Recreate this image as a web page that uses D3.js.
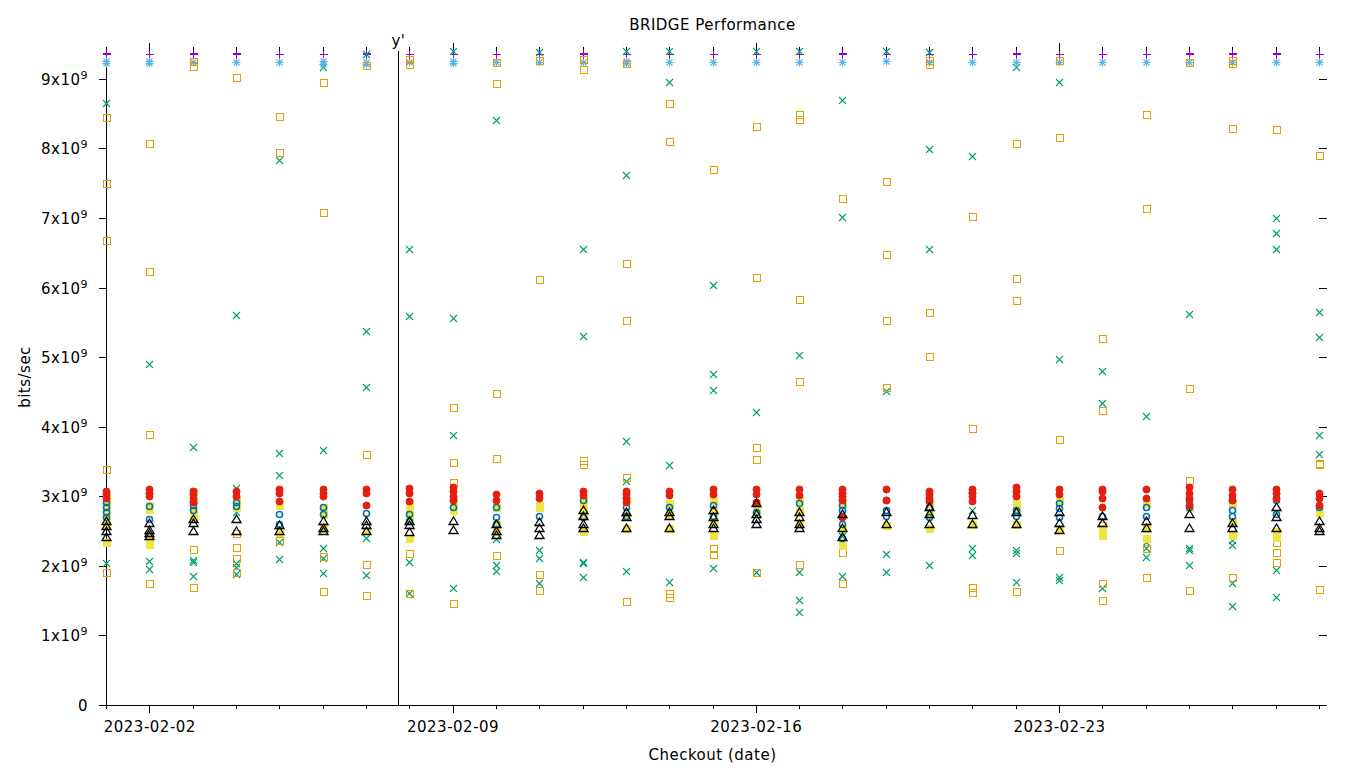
<!DOCTYPE html>
<html><head><meta charset="utf-8">
<script src="https://cdn.jsdelivr.net/npm/d3@7"></script>
<style>
body{margin:0;background:#fff}
svg{display:block}
text{font-family:"DejaVu Sans",sans-serif;fill:#000;letter-spacing:0.5px}
</style>
</head><body>
<svg id="chart" width="1360" height="768"></svg>
<script>
// ---- data (values in units of 1e9 bits/sec) ----
const dates = ["2023-02-01","2023-02-02","2023-02-03","2023-02-04","2023-02-05","2023-02-06","2023-02-07",
"2023-02-08","2023-02-09","2023-02-10","2023-02-11","2023-02-12","2023-02-13","2023-02-14","2023-02-15",
"2023-02-16","2023-02-17","2023-02-18","2023-02-19","2023-02-20","2023-02-21","2023-02-22","2023-02-23",
"2023-02-24","2023-02-25","2023-02-26","2023-02-27","2023-02-28","2023-03-01"];
const majorTickDates = ["2023-02-02","2023-02-09","2023-02-16","2023-02-23"];
const yTickValues = [0,1,2,3,4,5,6,7,8,9];
const markerDate = "2023-02-07T18:00";
const markerLabel = "y'";

const seriesPurple = [[9.37,9.35],[9.36],[9.37,9.35],[9.37,9.35],[9.36],[9.36,9.35],[9.37,9.35],[9.36,9.35],[9.36],[9.36],[9.36],[9.37,9.35],[9.36],[9.36],[9.36],[9.36],[9.36],[9.37,9.35],[9.36],[9.36],[9.36],[9.37,9.35],[9.36],[9.36],[9.36],[9.37,9.36,9.35],[9.37,9.35],[9.37,9.35],[9.36]];
const seriesGreen = [[8.65,2.04],[4.9,2.07,1.95],[3.71,2.09,2.06,1.86],[5.61,3.12,2.78,2.04,1.98,1.89],[7.83,3.62,3.31,2.34,2.1],[9.17,3.67,2.26,2.11,1.9],[9.36,5.38,4.57,2.4,1.87],[6.55,5.59,2.06,1.61],[9.40,5.56,3.88,1.68],[8.41,2.39,2.01,1.93],[9.39,2.23,2.11,1.75],[6.55,5.3,2.06,2.04,1.84],[9.40,7.62,3.8,3.22,1.93],[9.40,8.96,3.45,1.77],[6.04,4.76,4.53,1.97],[9.40,4.21,1.91],[9.40,5.03,1.91,1.51,1.33],[8.7,7.02,2.43,1.86],[9.40,4.52,2.17,1.91],[9.38,7.99,6.55,2.01],[7.89,2.8,2.26,2.16],[9.17,2.23,2.18,1.77],[8.96,4.98,1.84,1.8],[4.8,4.34,1.68],[4.16,2.34,2.25,2.13],[5.62,2.26,2.23,2.01],[2.37,2.3,1.75,1.42],[7.0,6.78,6.55,1.94,1.55],[5.65,5.29,3.88,3.61]];
const seriesLightBlue = [[9.26,9.23],[9.25,9.23],[9.24],[9.24],[9.24],[9.25,9.21],[9.24,9.22],[9.24],[9.25,9.23],[9.24],[9.24],[9.24],[9.25,9.23],[9.24],[9.24],[9.24],[9.24],[9.24],[9.25],[9.24],[9.24],[9.24],[9.24],[9.24],[9.24],[9.24],[9.24],[9.24],[9.24]];
const seriesOrange = [[8.45,7.5,6.68,3.39,1.91],[8.08,6.24,3.9,1.75],[9.25,9.18,2.24,1.7],[9.03,2.47,2.27,2.11,1.91],[8.47,7.95,2.37],[8.96,7.08,2.14,1.64],[9.2,3.61,2.03,1.58],[9.29,9.22,2.18,1.61],[4.28,3.49,3.2,1.47],[9.24,8.94,4.49,3.55,2.16],[9.27,6.12,1.88,1.65],[9.29,9.14,3.52,3.47],[9.23,6.35,5.53,3.28,1.49],[8.65,8.11,1.61,1.55],[7.71,2.26,2.17],[8.32,6.15,3.71,3.54,1.91],[8.5,8.42,5.84,4.66,2.03],[7.29,2.2,1.75],[7.53,6.48,5.53,4.57],[9.27,9.22,5.65,5.02],[7.03,3.98,1.7,1.62],[8.08,6.14,5.82,1.64],[9.27,8.17,3.82,2.23],[5.28,4.24,2.59,1.75,1.51],[8.5,7.14,2.26,1.84],[9.24,4.56,3.23,1.65],[9.27,9.23,8.29,1.84],[8.28,2.34,2.2,2.05],[7.91,3.48,3.46,1.67]];
const seriesYellow = [[3.0,2.9,2.8,2.7,2.6,2.35],[2.88,2.82,2.4,2.32],[3.08,2.95,2.8,2.7],[2.95,2.85],[2.88,2.48],[2.85,2.75,2.55],[2.52],[2.9,2.8,2.7,2.4],[2.95,2.85,2.8],[2.85,2.6,2.5],[2.88,2.84],[2.95,2.85,2.75,2.5],[2.95,2.75,2.55],[2.9,2.75,2.55],[2.95,2.8,2.65,2.45],[2.9,2.8],[2.95,2.8,2.6],[2.9,2.55,2.3],[2.58],[2.9,2.75,2.55],[2.6],[2.9,2.8,2.6],[2.95,2.55],[2.45,2.55],[2.9,2.55,2.4],[2.85],[2.9,2.65,2.45],[2.5,2.42],[2.78]];
const seriesBlue = [[2.92,2.85,2.78,2.7],[2.86,2.68],[2.92,2.87,2.8],[2.92,2.86],[2.75,2.6],[2.85,2.75],[2.76],[2.75,2.65],[2.85],[2.85,2.7,2.6],[2.72],[2.95,2.7],[2.85,2.72],[2.85],[2.88,2.72],[2.78],[2.9],[2.88,2.8,2.6,2.4],[2.95,2.8,2.72],[2.85,2.7],[3.06],[2.8,2.72],[2.9,2.83,2.7],[2.72],[2.85,2.72],[2.95,2.85],[2.95,2.8,2.72],[2.95,2.75],[2.85]];
const seriesRed = [[3.07,3.03,2.98],[3.1,3.05,3.0],[3.08,3.03,2.98,2.92],[3.07,3.0],[3.1,3.05,2.93],[3.1,3.05,3.0],[3.1,3.05,2.87],[3.12,3.05,2.93],[3.13,3.07,3.0,2.95],[3.03,2.95],[3.05,2.98],[3.08,3.02],[3.08,3.03,2.98,2.92],[3.08,3.02],[3.1,3.03],[3.1,3.03,2.92],[3.1,3.02],[3.1,3.05,3.0,2.95,2.7],[3.1,2.95],[3.08,3.03,2.98,2.93],[3.1,3.05,3.0,2.93],[3.14,3.08,3.0],[3.1,3.03],[3.1,3.07,2.98,2.85],[3.1,2.98],[3.13,3.05,2.98,2.88],[3.1,3.02,2.95],[3.1,3.05,2.98],[3.05,2.97,2.88]];
const seriesBlack = [[2.65,2.57,2.5,2.42],[2.62,2.52,2.47,2.43],[2.68,2.62,2.5],[2.68,2.5],[2.58,2.5],[2.65,2.55,2.5],[2.65,2.58,2.5],[2.65,2.58,2.48],[2.65,2.52],[2.6,2.5,2.45],[2.63,2.55,2.45],[2.8,2.72,2.6,2.55],[2.78,2.7,2.55],[2.78,2.72,2.55],[2.8,2.7,2.6,2.55],[2.9,2.75,2.68,2.6],[2.78,2.7,2.6,2.55],[2.75,2.55,2.42],[2.78,2.6],[2.85,2.75,2.6],[2.73,2.6],[2.78,2.6],[2.78,2.62,2.52],[2.72,2.62],[2.65,2.55],[2.75,2.55],[2.62,2.55],[2.85,2.7,2.55],[2.65,2.55,2.5]];

// ---- chart ----
(function(){
const svg = d3.select("#chart");
svg.append("rect").attr("width",1360).attr("height",768).attr("fill","#fff");
const parse = d3.isoParse;
const x = d3.scaleTime().domain([parse(dates[0]), parse(dates[dates.length-1])]).range([106,1319]);
const allVals = [seriesPurple,seriesGreen,seriesLightBlue,seriesOrange,seriesYellow,seriesBlue,seriesRed,seriesBlack].flat(2);
const y = d3.scaleLinear().domain([0, d3.max(allVals)]).range([705,51]);
const pL = x.range()[0], pR = x.range()[1], pT = y.range()[1], pB = y.range()[0];

// Left axis
const gL = svg.append("g").attr("transform",`translate(${pL},0)`)
  .call(d3.axisLeft(y).tickValues(yTickValues).tickSize(7).tickSizeOuter(0).tickFormat(""));
gL.selectAll(".tick").each(function(d){
  const t = d3.select(this).append("text").attr("x",-18).attr("y",5.5)
    .attr("text-anchor","end").style("font-size","15px");
  if(d===0){ t.text("0"); }
  else {
    t.append("tspan").text(d+"x10");
    t.append("tspan").attr("dy",-6).style("font-size","11px").text("9");
  }
});
// Right mirror ticks
const gR = svg.append("g").attr("transform",`translate(${pR},0)`)
  .call(d3.axisRight(y).tickValues(yTickValues).tickSize(8).tickSizeOuter(0).tickFormat(""));
gR.select(".domain").remove();

// Bottom axis: minor daily + major weekly
const dayDates = dates.map(parse);
const majors = majorTickDates.map(parse);
const gBm = svg.append("g").attr("transform",`translate(0,${pB})`)
  .call(d3.axisBottom(x).tickValues(dayDates).tickSize(4).tickSizeOuter(0).tickFormat(""));
gBm.select(".domain").remove();
const gB = svg.append("g").attr("transform",`translate(0,${pB})`)
  .call(d3.axisBottom(x).tickValues(majors).tickSize(8).tickSizeOuter(0).tickFormat(d3.timeFormat("%Y-%m-%d")));
gB.select(".domain").remove();
gB.selectAll("text").attr("y",16).attr("dy","0.71em").style("font-size","15px");
svg.append("line").attr("x1",pL-7).attr("x2",pR+8).attr("y1",pB+0.5).attr("y2",pB+0.5)
  .attr("stroke","#000").attr("shape-rendering","crispEdges");
// Top mirror ticks
const gTm = svg.append("g").attr("transform",`translate(0,${pT})`)
  .call(d3.axisTop(x).tickValues(dayDates).tickSize(4).tickSizeOuter(0).tickFormat(""));
gTm.select(".domain").remove();
const gT = svg.append("g").attr("transform",`translate(0,${pT})`)
  .call(d3.axisTop(x).tickValues(majors).tickSize(8).tickSizeOuter(0).tickFormat(""));
gT.select(".domain").remove();
svg.selectAll(".tick line, .domain").attr("shape-rendering","crispEdges");

// vertical marker line
const mx = Math.round(x(parse(markerDate)))+0.5;
svg.append("line").attr("x1",mx).attr("x2",mx).attr("y1",pT).attr("y2",pB)
  .attr("stroke","#000").attr("shape-rendering","crispEdges");
svg.append("text").attr("x",mx).attr("y",46).attr("text-anchor","middle").style("font-size","15px").text(markerLabel);

// markers
const shapes = {
  plus: "M-4,0H4M0,-4V4",
  cross: "M-3.5,-3.5L3.5,3.5M-3.5,3.5L3.5,-3.5",
  star: "M-4,0H4M0,-4V4M-3,-3L3,3M-3,3L3,-3",
  square: "M-3.5,-3.5H3.5V3.5H-3.5Z",
  fsquare: "M-3.5,-3.5H3.5V3.5H-3.5Z",
  circle: "M3,0A3,3 0 1,1 -3,0A3,3 0 1,1 3,0Z",
  fcircle: "M3.5,0A3.5,3.5 0 1,1 -3.5,0A3.5,3.5 0 1,1 3.5,0Z",
  triangle: "M0,-4.5L4.5,3H-4.5Z"
};
const seriesDefs = [
  {data:seriesPurple, shape:"plus", stroke:"#9400d3", fill:"none", sw:1, crisp:true},
  {data:seriesGreen, shape:"cross", stroke:"#009e73", fill:"none", sw:1.1, crisp:false},
  {data:seriesLightBlue, shape:"star", stroke:"#56b4e9", fill:"none", sw:1.1, crisp:false},
  {data:seriesOrange, shape:"square", stroke:"#e69f00", fill:"none", sw:1, crisp:true},
  {data:seriesYellow, shape:"fsquare", stroke:"#f0e442", fill:"#f0e442", sw:1, crisp:true},
  {data:seriesBlue, shape:"circle", stroke:"#0072b2", fill:"none", sw:1.6, crisp:false},
  {data:seriesRed, shape:"fcircle", stroke:"#e51e10", fill:"#e51e10", sw:1, crisp:false},
  {data:seriesBlack, shape:"triangle", stroke:"#000000", fill:"none", sw:1.3, crisp:false}
];
seriesDefs.forEach(s => {
  const pts = [];
  s.data.forEach((vals,i) => vals.forEach(v => pts.push({d:parse(dates[i]), v})));
  svg.append("g").selectAll("path").data(pts).join("path")
    .attr("transform", p => `translate(${Math.round(x(p.d))+0.5},${Math.round(y(p.v))+0.5})`)
    .attr("d", shapes[s.shape]).attr("stroke", s.stroke).attr("stroke-width",s.sw)
    .attr("fill", s.fill).attr("shape-rendering", s.crisp ? "crispEdges" : "auto");
});

// titles
svg.append("text").attr("x",(pL+pR)/2).attr("y",30).attr("text-anchor","middle").style("font-size","15px").text("BRIDGE Performance");
svg.append("text").attr("x",(pL+pR)/2).attr("y",760).attr("text-anchor","middle").style("font-size","15px").text("Checkout (date)");
svg.append("text").attr("transform","translate(30,377) rotate(-90)").attr("text-anchor","middle").style("font-size","15px").text("bits/sec");
})();
</script>
</body></html>
